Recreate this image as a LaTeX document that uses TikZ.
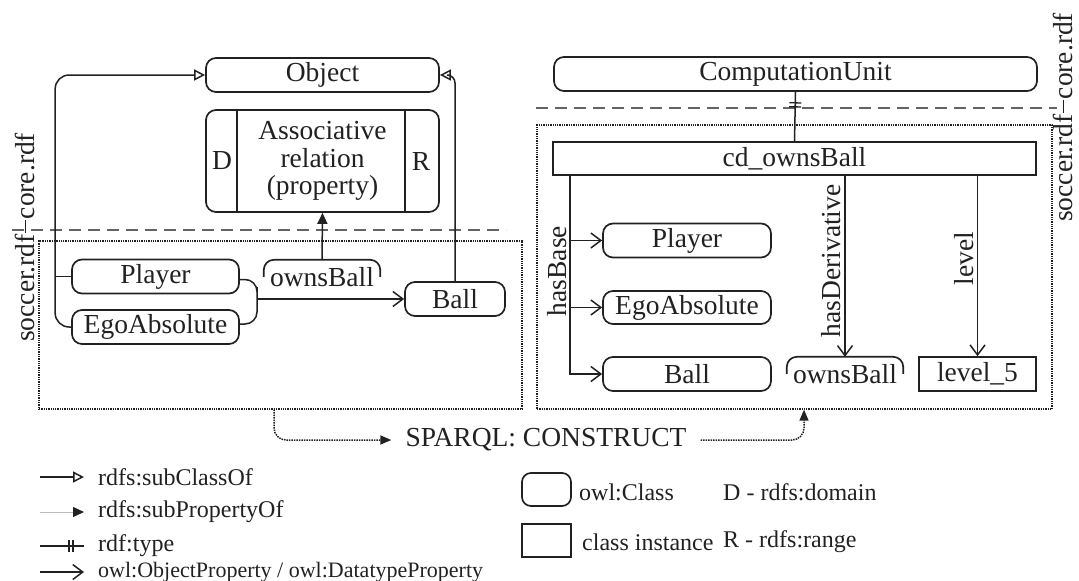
\documentclass[tikz,border=0pt]{standalone}
\usepackage{fontspec}
\setmainfont{Liberation Serif}
\usepackage{tikz}
\usetikzlibrary{arrows.meta,positioning,decorations.markings}

\definecolor{ink}{gray}{0.13}

\tikzset{
  every node/.style={font=\fontsize{27.5}{28}\selectfont, text=ink},
  cls/.style={draw=ink, line width=1.7pt, rounded corners=10pt, inner sep=0pt, minimum height=34pt},
  inst/.style={draw=ink, line width=1.7pt, inner sep=0pt, minimum height=34pt},
  prop/.style={inner sep=0pt, minimum height=34pt, minimum width=116pt},
  hat/.style={draw=ink, line width=1.7pt, rounded corners=10pt},
  dotbox/.style={draw=ink, line width=1.3pt, densely dotted, inner sep=0pt},
  sepline/.style={draw=ink!70, line width=1.2pt, dash pattern=on 12pt off 7pt},
  sidelbl/.style={rotate=90, inner sep=0pt},
  edgelbl/.style={rotate=90, anchor=south, inner sep=3pt},
  link/.style={draw=ink, line width=1.5pt},
  subcls/.style={link, -{Triangle[open, length=11pt, width=11pt]}},
  subprop/.style={link, -{Triangle[length=11pt, width=10pt]}},
  objprop/.style={link, -{Straight Barb[length=10pt, width=15pt]}},
  rdftype/.style={link, postaction={decorate}, decoration={markings,
    mark=at position -11pt with {\draw[ink, line width=1.3pt] (0pt,-6pt) -- (0pt,6pt) (-4pt,-6pt) -- (-4pt,6pt);}}},
  sparql/.style={draw=ink, line width=1.5pt, densely dotted, rounded corners=12pt, -{Triangle[length=11pt, width=9pt]}},
  legtxt/.style={anchor=west, inner sep=0pt, font=\fontsize{24}{26}\selectfont},
}

% property shape: only the rounded top is drawn
\newcommand\drawhat[1]{\draw[hat] ([yshift=-17pt]#1.north west) -- (#1.north west) -- (#1.north east) -- ([yshift=-17pt]#1.north east);}

\begin{document}
\begin{tikzpicture}[x=1pt,y=-1pt]
  \useasboundingbox (0,0) rectangle (1079,581);

  % core.rdf part, left
  \node[cls, minimum width=233pt] (obj) at (322.5,75) {Object};
  \node[cls, minimum width=233pt, minimum height=102pt, align=center, font=\fontsize{27.5}{27.5}\selectfont] (assoc) at (322.5,161) {Associative\\relation\\(property)};
  \draw[link, line width=1.6pt] ([xshift=32pt]assoc.north west) -- ([xshift=32pt]assoc.south west);
  \draw[link, line width=1.6pt] ([xshift=-35pt]assoc.north east) -- ([xshift=-35pt]assoc.south east);
  \node (dom) at (222,161) {D};
  \node (rng) at (421,161) {R};

  \draw[sepline] (12,230) -- (506,230);
  \node[sidelbl] (coreL) at (25,176) {core.rdf};
  \node[sidelbl] (socL) at (25,288) {soccer.rdf};
  \draw[ink, line width=1pt, shorten <=1pt, shorten >=1pt] (coreL.west) -- (socL.east);

  % soccer.rdf part, left
  \node[dotbox, minimum width=483pt, minimum height=168pt] (boxL) at (280.5,325) {};
  \node[cls, minimum width=167pt] (plL) at (155.5,276.5) {Player};
  \node[cls, minimum width=167pt] (egoL) at (155.5,327) {EgoAbsolute};
  \node[cls, minimum width=100pt] (ballL) at (455,299) {Ball};
  \node[prop] (ownL) at (322,277) {ownsBall};
  \drawhat{ownL}
  \coordinate (join) at (257,299);

  \draw[subcls, rounded corners=14pt] (egoL.west) -- ++(-16,0) |- (obj.west);
  \draw[link] (plL.west) -- ++(-16,0);
  \draw[subcls, rounded corners=8pt] (ballL.north) |- (obj.east);
  \draw[subprop] (ownL.north) -- (assoc.south);
  \draw[link, rounded corners=12pt] ([yshift=-3pt]plL.east) -| (join) |- ([yshift=3pt]egoL.east);
  \draw[objprop] (join) -- (ballL.west);

  % right side
  \node[cls, minimum width=483pt] (cu) at (795.5,74) {ComputationUnit};
  \draw[sepline] (536,108) -- (1057,108);
  \node[sidelbl] (coreR) at (1063,56) {core.rdf};
  \node[sidelbl] (socR) at (1063,168) {soccer.rdf};
  \draw[ink, line width=1pt, shorten <=1pt, shorten >=1pt] (coreR.west) -- (socR.east);

  \node[dotbox, minimum width=515pt, minimum height=284pt] (boxR) at (794.5,267) {};
  \node[inst, minimum width=483pt, minimum height=33pt] (cd) at (794.5,158.5) {cd\_ownsBall};
  \node[cls, minimum width=168pt] (plR) at (687,240.5) {Player};
  \node[cls, minimum width=168pt, minimum height=33pt] (egoR) at (687,307.5) {EgoAbsolute};
  \node[cls, minimum width=168pt] (ballR) at (687,374) {Ball};
  \node[prop] (ownR) at (845,374) {ownsBall};
  \drawhat{ownR}
  \node[inst, minimum width=117pt] (lvl) at (977.5,374) {level\_5};

  \draw[rdftype] (cd.north) -- (cu.south);
  \coordinate (hb) at ([xshift=18pt]cd.south west);
  \draw[objprop] (hb) |- node[pos=0.24, edgelbl] (hbLbl) {hasBase} (ballR.west);
  \draw[objprop] (hb |- plR.west) -- (plR.west);
  \draw[objprop] (hb |- egoR.west) -- (egoR.west);
  \draw[objprop] (ownR.north |- cd.south) -- node[pos=0.47, edgelbl] (hdLbl) {hasDerivative} (ownR.north);
  \draw[objprop] (lvl.north |- cd.south) -- node[pos=0.46, edgelbl] (lvLbl) {level} (lvl.north);

  % query
  \node[inner sep=0pt] (sq) at (546,440) {SPARQL: CONSTRUCT};
  \draw[sparql, shorten >=14pt] ([xshift=-6.5pt]boxL.south) |- (sq.west);
  \draw[sparql, shorten <=14pt] (sq.east) -| ([xshift=9.5pt]boxR.south);

  % legend
  \coordinate (k1) at (40,477);
  \coordinate (k2) at (40,512);
  \coordinate (k3) at (40,546);
  \coordinate (k4) at (40,572);
  \node[legtxt] (t1) at (98,477) {rdfs:subClassOf};
  \node[legtxt] (t2) at (98,512) {rdfs:subPropertyOf};
  \node[legtxt] (t3) at (98,546) {rdf:type};
  \node[legtxt, font=\fontsize{22}{24}\selectfont] (t4) at (98,572) {owl:ObjectProperty / owl:DatatypeProperty};
  \draw[subcls] (k1) -- ([xshift=-14pt]t1.west);
  \draw[draw=ink!30, line width=0.8pt, -{Triangle[length=11pt, width=10pt, color=ink]}] (k2) -- ([xshift=-14pt]t2.west);
  \draw[rdftype] (k3) -- ([xshift=-14pt]t3.west);
  \draw[objprop] (k4) -- ([xshift=-14pt]t4.west);

  \node[cls, minimum width=49pt, minimum height=33pt, rounded corners=9pt] (kcls) at (546.5,489.5) {};
  \node[inst, minimum width=49pt, minimum height=33pt] (kinst) at (546.5,540.5) {};
  \node[legtxt] (tcls) at (579,492) {owl:Class};
  \node[legtxt] (tinst) at (582,542) {class instance};
  \node[legtxt] (tdom) at (723,492) {D - rdfs:domain};
  \node[legtxt] (trng) at (723,542) {R - rdfs:range};
\end{tikzpicture}
\end{document}
